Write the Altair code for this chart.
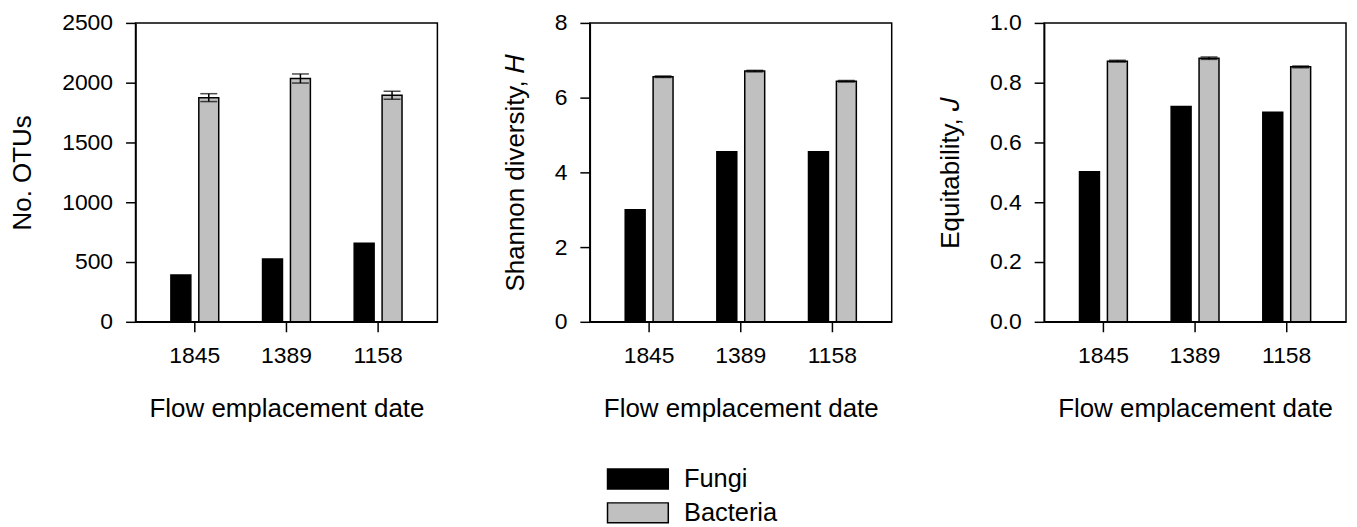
import altair as alt
import pandas as pd

FONT = "Liberation Sans"

dates = ["1845", "1389", "1158"]
groups = ["Fungi", "Bacteria"]

otus_fungi = [392, 525, 658]
otus_bact = [1875, 2035, 1895]
otus_bact_err = [33, 38, 33]

shannon_fungi = [3.0, 4.55, 4.55]
shannon_bact = [6.56, 6.71, 6.44]
shannon_bact_err = [0.02, 0.02, 0.02]

equit_fungi = [0.502, 0.72, 0.701]
equit_bact = [0.872, 0.882, 0.853]
equit_bact_err = [0.003, 0.004, 0.003]

otus_ticks = [0, 500, 1000, 1500, 2000, 2500]
shannon_ticks = [0, 2, 4, 6, 8]
equit_ticks = [0, 0.2, 0.4, 0.6, 0.8, 1.0]


def panel(fungi, bact, err, domain, ticks, title, fmt):
    df = pd.DataFrame({
        "date": dates * 2,
        "group": ["Fungi"] * 3 + ["Bacteria"] * 3,
        "value": fungi + bact,
    })
    edf = pd.DataFrame({
        "date": dates,
        "group": ["Bacteria"] * 3,
        "lo": [b - e for b, e in zip(bact, err)],
        "hi": [b + e for b, e in zip(bact, err)],
    })
    xscale = alt.Scale(domain=dates, paddingInner=0.478, paddingOuter=0.386)
    xaxis = alt.Axis(title="Flow emplacement date", labelAngle=0, titlePadding=28)
    xo = alt.XOffset("group:N", sort=groups,
                     scale=alt.Scale(domain=groups, paddingInner=0.2857, paddingOuter=0))
    x = alt.X("date:N", sort=dates, scale=xscale, axis=xaxis, title="Flow emplacement date")
    yscale = alt.Scale(domain=domain, nice=False, zero=True)
    yaxis = alt.Axis(values=ticks, format=fmt, title=title, titlePadding=26)
    color = alt.Color(
        "group:N", sort=groups,
        scale=alt.Scale(domain=groups, range=["#000000", "#c0c0c0"]),
        legend=alt.Legend(
            title=None, orient="none", legendX=491.5, legendY=445,
            symbolType="M-3.05,-1H3.05V1H-3.05Z", symbolSize=400,
            symbolStrokeColor="black", symbolStrokeWidth=1.5, symbolOpacity=1,
            labelFont=FONT, labelFontSize=25.5, labelColor="black",
            labelOffset=33.5, rowPadding=6, padding=0,
        ),
    )
    bars = alt.Chart(df).mark_bar(stroke="black", strokeWidth=1.5, opacity=1).encode(
        x=x, xOffset=xo,
        y=alt.Y("value:Q", scale=yscale, axis=yaxis, title=title),
        color=color,
    )
    rule = alt.Chart(edf).mark_rule(color="black", strokeWidth=1.5).encode(
        x=x, xOffset=xo,
        y=alt.Y("lo:Q", scale=yscale, axis=yaxis, title=title), y2="hi:Q",
    )
    cap_lo = alt.Chart(edf).mark_tick(color="black", size=17, thickness=1.5).encode(
        x=x, xOffset=xo, y=alt.Y("lo:Q", scale=yscale, axis=yaxis, title=title)
    )
    cap_hi = alt.Chart(edf).mark_tick(color="black", size=17, thickness=1.5).encode(
        x=x, xOffset=xo, y=alt.Y("hi:Q", scale=yscale, axis=yaxis, title=title)
    )
    return alt.layer(bars, rule, cap_lo, cap_hi).properties(width=303, height=300)


p1 = panel(otus_fungi, otus_bact, otus_bact_err, [0, 2500], otus_ticks, "No. OTUs", "d")
p2 = panel(shannon_fungi, shannon_bact, shannon_bact_err, [0, 8], shannon_ticks,
           "Shannon diversity, \U0001D43B", "d")
p3 = panel(equit_fungi, equit_bact, equit_bact_err, [0, 1], equit_ticks,
           "Equitability, \U0001D43D", ".1f")

chart = alt.hconcat(alt.hconcat(p1, p2, spacing=63), p3, spacing=44).properties(
    padding={"left": 1, "top": 2, "right": 2, "bottom": 0}
).configure_view(
    stroke="black", strokeWidth=1.5
).configure_axis(
    domainColor="black", domainWidth=1.5, tickColor="black", tickWidth=1.5,
    tickSize=10, labelFont=FONT, labelFontSize=23, labelColor="black",
    labelPadding=13, titleFont=FONT, titleFontSize=26, titleFontWeight="normal",
    titleColor="black", grid=False,
)

chart.save("out.html", embed_options={"renderer": "svg", "actions": False})
